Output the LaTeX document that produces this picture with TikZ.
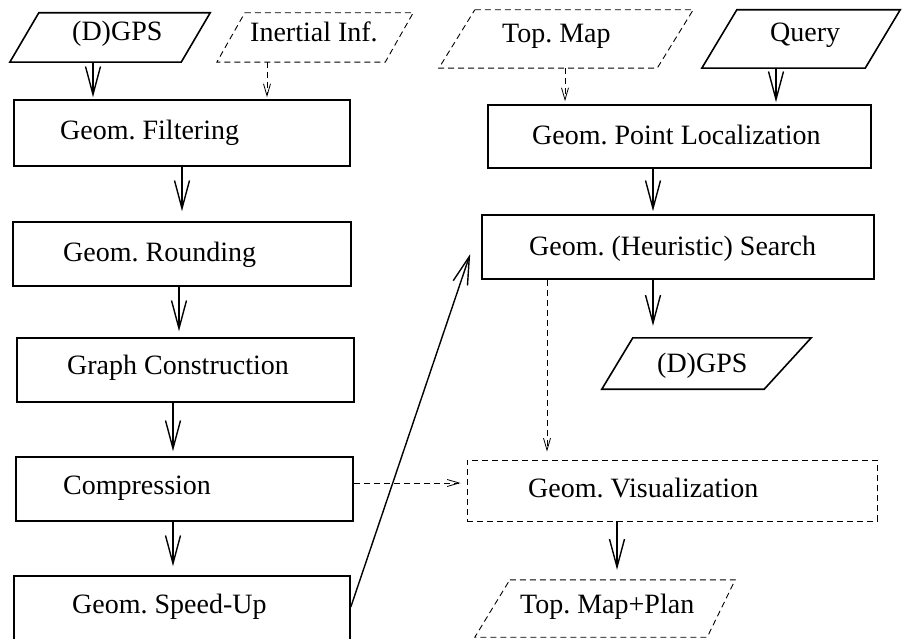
\documentclass[tikz,border=0pt]{standalone}
\usepackage{fontspec}
\setmainfont{Liberation Serif}
\usetikzlibrary{arrows.meta}
\begin{document}
\frenchspacing
\begin{tikzpicture}[x=1pt,y=-1pt,
  box/.style={draw, line width=1.6pt, inner sep=0pt, rectangle},
  dbox/.style={draw, line width=0.9pt, dash pattern=on 6pt off 4pt, inner sep=0pt, rectangle},
  frame/.style={inner sep=0pt, rectangle},
  solidline/.style={line width=1.6pt, line join=miter},
  dashline/.style={line width=0.9pt, dash pattern=on 6pt off 4pt},
  lbl/.style={inner sep=0pt, anchor=base west, font=\fontsize{28}{33}\selectfont},
  arr/.style={line width=1.4pt, -{Straight Barb[length=28pt,width=15pt,line width=1.4pt]}},
  darr/.style={line width=0.8pt, dash pattern=on 6pt off 4pt, -{Straight Barb[length=12pt,width=7pt,line width=0.8pt]}},
  ]
\clip (0,0) rectangle (902,639);
\fill[white] (0,0) rectangle (902,639);

% helper coordinates for connector positions
\coordinate (c93) at (93,0);
\coordinate (c267) at (267,0);
\coordinate (c182) at (182,0);
\coordinate (c179) at (179,0);
\coordinate (c173) at (173,0);
\coordinate (c565) at (565,0);
\coordinate (c776) at (776,0);
\coordinate (c653) at (653,0);
\coordinate (c547) at (547,0);
\coordinate (c617) at (617,0);
\coordinate (y483) at (0,483);
\coordinate (y607) at (0,607);

% left column boxes
\node[box, minimum width=336pt, minimum height=66pt] (filt)  at (182,133) {};
\node[box, minimum width=338pt, minimum height=64pt] (round) at (182,254) {};
\node[box, minimum width=337pt, minimum height=64pt] (graph) at (185.5,370) {};
\node[box, minimum width=337pt, minimum height=64pt] (comp)  at (184.5,489) {};
\node[box, minimum width=336pt, minimum height=66pt] (speed) at (182,609) {};

% right column boxes
\node[box, minimum width=383pt, minimum height=63pt] (ploc)   at (679.5,136.5) {};
\node[box, minimum width=392pt, minimum height=64pt] (search) at (678,247) {};
\node[dbox, minimum width=410pt, minimum height=61pt] (vis)   at (672,490.5) {};

% parallelogram frames
\node[frame, minimum width=200pt, minimum height=49pt] (gps1)   at (110,37.5) {};
\node[frame, minimum width=196pt, minimum height=49pt] (inert)  at (315,37.5) {};
\node[frame, minimum width=254pt, minimum height=58pt] (topmap) at (566,39) {};
\node[frame, minimum width=198pt, minimum height=58pt] (query)  at (801,39) {};
\node[frame, minimum width=209pt, minimum height=51pt] (gps2)   at (706.5,363.5) {};
\node[frame, minimum width=260pt, minimum height=57pt] (plan)   at (605,608.5) {};

\draw[solidline] ([xshift=29pt]gps1.north west) -- (gps1.north east) -- ([xshift=-29pt]gps1.south east) -- (gps1.south west) -- cycle;
\draw[dashline] ([xshift=28pt]inert.north west) -- (inert.north east) -- ([xshift=-28pt]inert.south east) -- (inert.south west) -- cycle;
\draw[dashline] ([xshift=36pt]topmap.north west) -- (topmap.north east) -- ([xshift=-36pt]topmap.south east) -- (topmap.south west) -- cycle;
\draw[solidline] ([xshift=35pt]query.north west) -- (query.north east) -- ([xshift=-35pt]query.south east) -- (query.south west) -- cycle;
\draw[solidline] ([xshift=31pt]gps2.north west) -- (gps2.north east) -- ([xshift=-47pt]gps2.south east) -- (gps2.south west) -- cycle;
\draw[dashline] ([xshift=35pt]plan.north west) -- (plan.north east) -- ([xshift=-28pt]plan.south east) -- (plan.south west) -- cycle;

% labels
\node[lbl] (tgps1)   at (72,41)   {(D)GPS};
\node[lbl] (tinert)  at (250,42)  {Inertial Inf.};
\node[lbl] (ttopmap) at (502,43)  {Top. Map};
\node[lbl] (tquery)  at (770,42)  {Query};
\node[lbl] (tfilt)   at (60,140)  {Geom. Filtering};
\node[lbl] (tround)  at (63,261)  {Geom. Rounding};
\node[lbl] (tgraph)  at (67,374)  {Graph Construction};
\node[lbl] (tcomp)   at (63,494)  {Compression};
\node[lbl] (tspeed)  at (72,613)  {Geom. Speed-Up};
\node[lbl] (tploc)   at (532,145) {Geom. Point Localization};
\node[lbl] (tsearch) at (529,255) {Geom. (Heuristic) Search};
\node[lbl] (tgps2)   at (657,372) {(D)GPS};
\node[lbl] (tvis)    at (528,497) {Geom. Visualization};
\node[lbl] (tplan)   at (520,613) {Top. Map+Plan};

% connectors
\draw[arr, shorten >=2pt]  (gps1.south -| c93)   -- (filt.north -| c93);
\draw[darr, shorten >=2pt] (inert.south -| c267) -- (filt.north -| c267);
\draw[arr, shorten >=10pt] (filt.south -| c182)  -- (round.north -| c182);
\draw[arr, shorten >=6pt]  (round.south -| c179) -- (graph.north -| c179);
\draw[arr, shorten >=5pt]  (graph.south -| c173) -- (comp.north -| c173);
\draw[arr, shorten >=9pt]  (comp.south -| c173)  -- (speed.north -| c173);
\draw[darr, shorten >=6pt] (comp.east |- y483)   -- (vis.west |- y483);
\draw[arr] (speed.east |- y607) -- ([shift={(-11,7)}]search.west);
\draw[darr, shorten >=3pt] (topmap.south -| c565) -- (ploc.north -| c565);
\draw[arr, shorten >=2pt]  (query.south -| c776)  -- (ploc.north -| c776);
\draw[arr, shorten >=3pt]  (ploc.south -| c653)   -- (search.north -| c653);
\draw[arr, shorten >=12pt] (search.south -| c653) -- (gps2.north -| c653);
\draw[darr, shorten >=8pt] (search.south -| c547) -- (vis.north -| c547);
\draw[arr, shorten >=10pt] (vis.south -| c617)    -- (plan.north -| c617);
\end{tikzpicture}
\end{document}
